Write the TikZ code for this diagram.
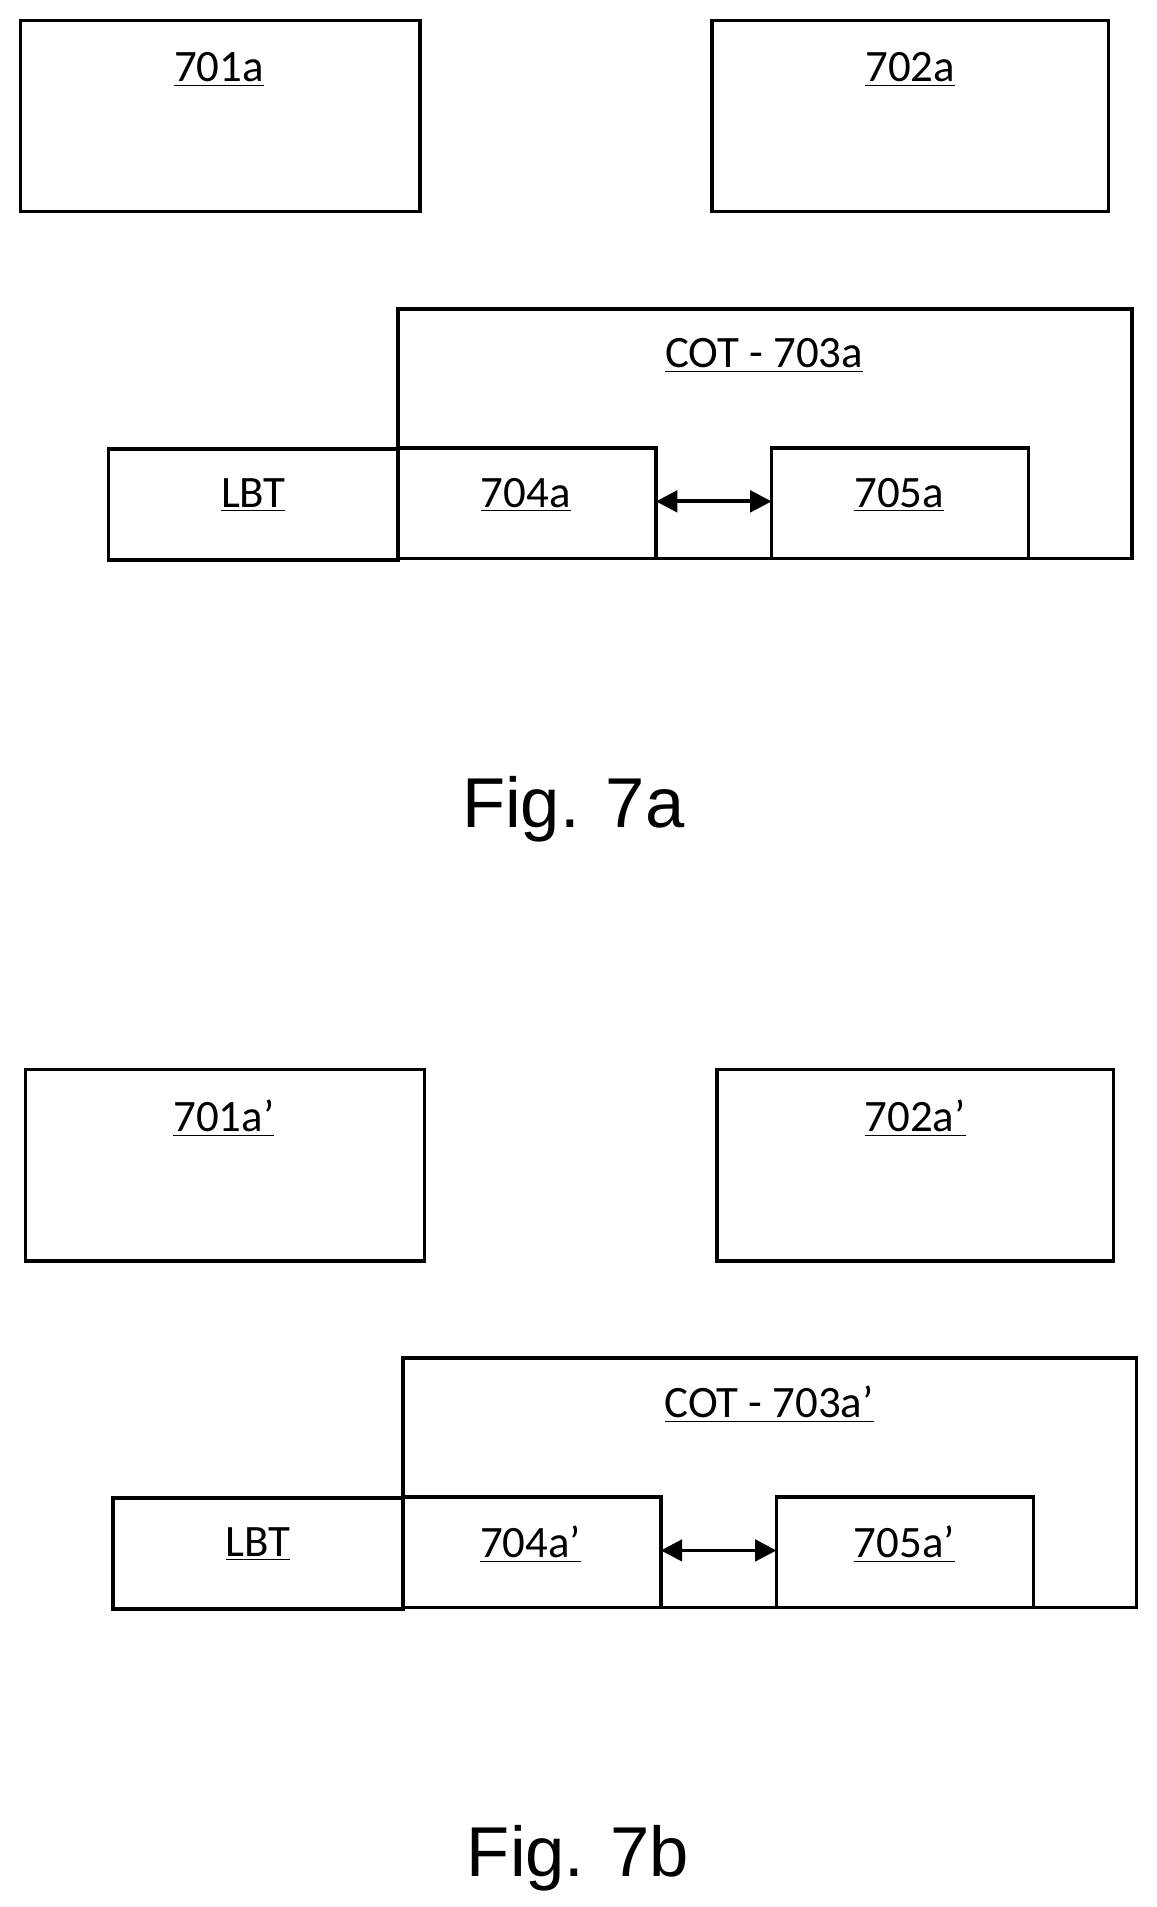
\documentclass[tikz,border=0pt]{standalone}
\usepackage{fontspec}
\setmainfont{Carlito}
\newfontfamily\figfont{Liberation Sans}
\usetikzlibrary{arrows.meta}
\tikzset{
  blk/.style={draw, line width=1.6pt},
  lbl/.style={font=\fontsize{21}{24}\selectfont},
  figlbl/.style={font=\figfont\fontsize{33}{38}\selectfont},
}
\begin{document}
\begin{tikzpicture}[x=0.02cm,y=-0.02cm]
  \useasboundingbox (0,0) rectangle (950,1567);
  \foreach \dx/\dy/\s/\p in {0/0/a/a, 4/862/a’/b} {
    \begin{scope}[shift={(\dx,\dy)}]
    \draw[blk] (17,17) rectangle (345,174);
    \node[lbl] (t1\p) at (180,57) {\underline{701\s}};
    \draw[blk] (585,17) rectangle (911,174);
    \node[lbl] (t2\p) at (748,57) {\underline{702\s}};
    \draw[blk] (327,459) -- (327,254) -- (930,254) -- (930,459) -- (845,459);
    \node[lbl] (cot\p) at (628,292) {\underline{COT - 703\s}};
    \draw[blk] (89,369) rectangle (327,460);
    \node[lbl] (lbt\p) at (208,407) {\underline{LBT}};
    \draw[blk] (327,368) rectangle (539,459);
    \node[lbl] (t4\p) at (432,407) {\underline{704\s}};
    \draw[blk] (634,368) rectangle (845,459);
    \node[lbl] (t5\p) at (739,407) {\underline{705\s}};
    \draw[blk] (539,459) -- (634,459);
    \coordinate (al\p) at (539,412);
    \coordinate (ar\p) at (634,412);
    \draw[line width=1.8pt, {Triangle[length=10pt,width=10pt]}-{Triangle[length=10pt,width=10pt]}] (al\p) -- (ar\p);
    \node[figlbl] (fig\p) at (471,665) {Fig. 7\p};
    \end{scope}
  }
\end{tikzpicture}
\end{document}
